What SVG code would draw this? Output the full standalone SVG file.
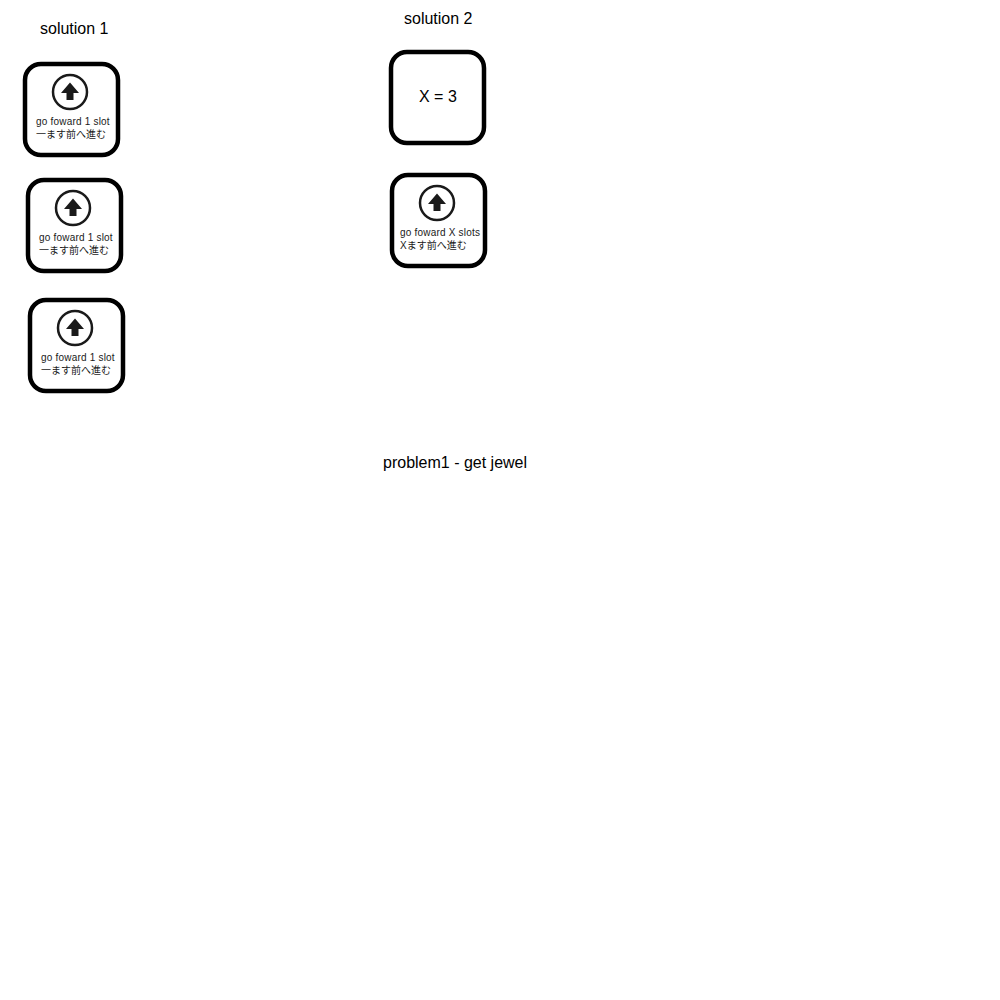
<svg xmlns="http://www.w3.org/2000/svg" width="1000" height="1000" viewBox="0 0 1000 1000">
<style>
text{font-family:"Liberation Sans","Noto Sans CJK JP",sans-serif;fill:#000}
.t{font-size:16px}
.s{font-size:10px;letter-spacing:.2px;fill:#1a1a1a}
.j{font-size:10px;fill:#1a1a1a}
.box{fill:#fff;stroke:#000;stroke-width:4.500}
.c{fill:#fff;stroke:#1a1a1a;stroke-width:2.500}
.a{fill:#1a1a1a}
</style>
<defs>
<g id="icon"><circle class="c" r="17"/><path class="a" d="M0-9.500L9 1H3.500V8H-3.500V1H-9Z"/></g>
</defs>
<rect width="1000" height="1000" fill="#fff"/>
<text class="t" x="40" y="34">solution 1</text>
<text class="t" x="404" y="24">solution 2</text>
<text class="t" x="383" y="468">problem1 - get jewel</text>
<g id="node1"><rect class="box" x="25" y="64" width="93" height="91" rx="16"/><use href="#icon" x="70" y="92"/><text class="s" x="36" y="125">go foward 1 slot</text><text class="j" x="36" y="138">一ます前へ進む</text></g>
<g id="node2"><rect class="box" x="28" y="180" width="93" height="91" rx="16"/><use href="#icon" x="73" y="208"/><text class="s" x="39" y="241">go foward 1 slot</text><text class="j" x="39" y="254">一ます前へ進む</text></g>
<g id="node3"><rect class="box" x="30" y="300" width="93" height="91" rx="16"/><use href="#icon" x="75" y="328"/><text class="s" x="41" y="361">go foward 1 slot</text><text class="j" x="41" y="374">一ます前へ進む</text></g>
<g id="node4"><rect class="box" x="391" y="52" width="93" height="91" rx="16"/><text class="t" x="419" y="102">X = 3</text></g>
<g id="node5"><rect class="box" x="392" y="175" width="93" height="91" rx="16"/><use href="#icon" x="437" y="203"/><text class="s" x="400" y="236">go foward X slots</text><text class="j" x="400" y="249">Xます前へ進む</text></g>
<g id="connectors"></g>
</svg>
